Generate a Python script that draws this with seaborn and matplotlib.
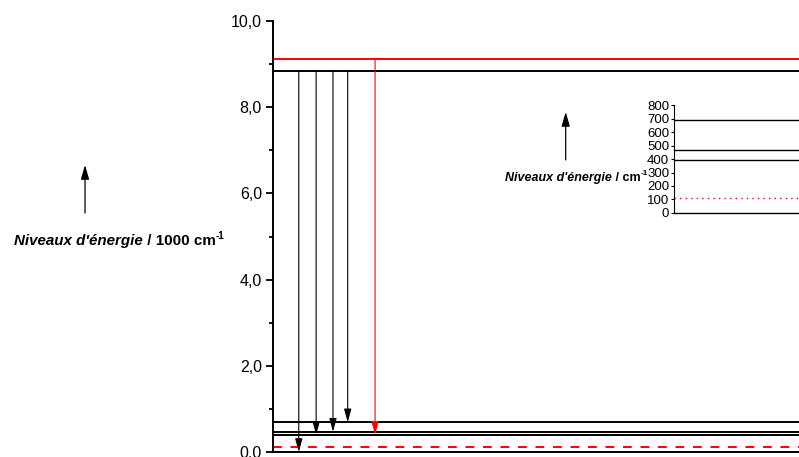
import numpy as np
import pandas as pd
import matplotlib
matplotlib.use('Agg')
import matplotlib.pyplot as plt
import seaborn as sns

# energy levels (1000 cm-1) in the main diagram
black_levels = [0.0, 0.40, 0.47, 0.69, 8.84]
red_level = 9.12
red_dashed_level = 0.11

# transitions: x position, start level, end level
arrow_x = [0.49, 0.82, 1.14, 1.42]
arrow_end = [0.0, 0.40, 0.47, 0.69]
red_arrow_x = 1.94
red_arrow_end = 0.40

# inset: low lying levels in cm-1
inset_levels = [0, 393, 470, 690]
inset_red_level = 110

main_ticks = [0, 2, 4, 6, 8, 10]
main_ticklabels = ['0.0', '2,0', '4,0', '6,0', '8,0', '10,0']
inset_ticks = list(range(0, 900, 100))

sns.set_style('ticks')
plt.rcParams['font.family'] = ['Liberation Sans', 'DejaVu Sans']
plt.rcParams['text.color'] = 'black'
plt.rcParams['ytick.color'] = 'black'
plt.rcParams['axes.edgecolor'] = 'black'

fig = plt.figure(figsize=(7.99, 4.57), dpi=100)
ax = fig.add_axes([0.3417, 0.0109, 0.6583, 0.9431])

# level lines through seaborn
lv = pd.DataFrame({'x': np.repeat([0, 10], len(black_levels)),
                   'E': black_levels * 2,
                   'lvl': list(range(len(black_levels))) * 2})
sns.lineplot(data=lv, x='x', y='E', units='lvl', estimator=None, color='black',
             lw=1.4, ax=ax, clip_on=False)
sns.lineplot(x=[0, 10], y=[red_level] * 2, color='red', lw=1.4, ax=ax)
sns.lineplot(x=[0, 10], y=[red_dashed_level] * 2, color='red', lw=1.4, ax=ax,
             linestyle=(0, (4.5, 4.5)))

head = '-|>,head_length=0.8,head_width=0.22'
for x, end in zip(arrow_x, arrow_end):
    ax.annotate('', xy=(x, end), xytext=(x, black_levels[-1]),
                arrowprops=dict(arrowstyle=head, color='black', lw=0.8,
                                mutation_scale=10, shrinkA=0, shrinkB=0),
                annotation_clip=False)
ax.annotate('', xy=(red_arrow_x, red_arrow_end), xytext=(red_arrow_x, red_level),
            arrowprops=dict(arrowstyle=head, color='red', lw=0.8,
                            mutation_scale=10, shrinkA=0, shrinkB=0))

ax.set_xlim(0, 10)
ax.set_ylim(0, 10)
ax.set_xticks([])
ax.set_yticks(main_ticks)
ax.set_yticklabels(main_ticklabels, fontsize=11.5)
ax.set_yticks([1, 3, 5, 7, 9], minor=True)
ax.tick_params(axis='y', which='major', length=5, width=1.3, pad=3)
ax.tick_params(axis='y', which='minor', length=3, width=1.3)
ax.set_xlabel('')
ax.set_ylabel('')
for s in ['top', 'right', 'bottom']:
    ax.spines[s].set_visible(False)
ax.spines['left'].set_linewidth(1.4)
ax.patch.set_alpha(0)

# inset with the low lying levels
axi = fig.add_axes([0.8436, 0.534, 0.1564, 0.236])
for e in inset_levels:
    sns.lineplot(x=[0, 1], y=[e, e], color='black', lw=1.0, ax=axi, clip_on=False)
sns.lineplot(x=[0, 1], y=[inset_red_level] * 2, color='red', lw=1.0, ax=axi,
             linestyle=(0, (1, 3)))
axi.set_xlim(0, 1)
axi.set_ylim(0, 800)
axi.set_xticks([])
axi.set_yticks(inset_ticks)
axi.set_yticklabels([str(t) for t in inset_ticks], fontsize=9.5)
axi.tick_params(axis='y', length=2.5, width=0.8, pad=1)
for s in ['top', 'right', 'bottom']:
    axi.spines[s].set_visible(False)
axi.spines['left'].set_linewidth(0.8)
axi.patch.set_alpha(0)

# axis labels with arrows
fig.canvas.draw()
r = fig.canvas.get_renderer()


def label(x, y, size, unit):
    t1 = fig.text(x, y, "Niveaux d'énergie", fontsize=size, fontweight='bold',
                  fontstyle='italic')
    bb = t1.get_window_extent(r).transformed(fig.transFigure.inverted())
    t2 = fig.text(bb.x1, y, ' / ' + unit, fontsize=size, fontweight='bold')
    bb2 = t2.get_window_extent(r).transformed(fig.transFigure.inverted())
    fig.text(bb2.x1, y + 0.013, '-1', fontsize=size * 0.65, fontweight='bold')


label(0.0175, 0.464, 10.9, '1000 cm')
label(0.632, 0.605, 9.0, 'cm')

for xa, y0, y1 in [(0.1064, 0.534, 0.639), (0.708, 0.650, 0.755)]:
    fig.add_artist(matplotlib.patches.FancyArrowPatch(
        (xa, y0), (xa, y1), transform=fig.transFigure,
        arrowstyle='-|>,head_length=0.86,head_width=0.25',
        mutation_scale=10, lw=0.9, color='black', shrinkA=0, shrinkB=0))

fig.savefig('out.png', dpi=100)
